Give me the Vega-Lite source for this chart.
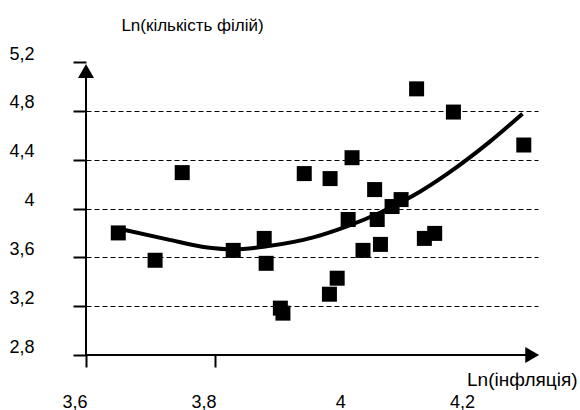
{
  "$schema": "https://vega.github.io/schema/vega-lite/v6.json",
  "autosize": {"type": "none"},
  "padding": {"left": 86, "top": 62, "right": 42, "bottom": 55},
  "width": 452,
  "height": 293,
  "background": "white",
  "config": {
    "view": {"stroke": null},
    "font": "Liberation Sans"
  },
  "datasets": {
    "points": [
      {"infl": 3.650, "branches": 3.80},
      {"infl": 3.707, "branches": 3.576},
      {"infl": 3.749, "branches": 4.294},
      {"infl": 3.828, "branches": 3.657},
      {"infl": 3.876, "branches": 3.755},
      {"infl": 3.879, "branches": 3.551},
      {"infl": 3.901, "branches": 3.184},
      {"infl": 3.905, "branches": 3.143},
      {"infl": 3.938, "branches": 4.286},
      {"infl": 3.977, "branches": 3.298},
      {"infl": 3.978, "branches": 4.245},
      {"infl": 3.989, "branches": 3.429},
      {"infl": 4.006, "branches": 3.91},
      {"infl": 4.012, "branches": 4.416},
      {"infl": 4.029, "branches": 3.657},
      {"infl": 4.047, "branches": 4.155},
      {"infl": 4.051, "branches": 3.91},
      {"infl": 4.056, "branches": 3.706},
      {"infl": 4.074, "branches": 4.016},
      {"infl": 4.088, "branches": 4.073},
      {"infl": 4.112, "branches": 4.98},
      {"infl": 4.124, "branches": 3.755},
      {"infl": 4.140, "branches": 3.796},
      {"infl": 4.169, "branches": 4.79},
      {"infl": 4.278, "branches": 4.52}
    ],
    "curve": [
      {"infl": 3.655, "branches": 3.83},
      {"infl": 3.726, "branches": 3.747},
      {"infl": 3.788, "branches": 3.68},
      {"infl": 3.828, "branches": 3.665},
      {"infl": 3.88, "branches": 3.69},
      {"infl": 3.952, "branches": 3.763},
      {"infl": 4.005, "branches": 3.855},
      {"infl": 4.056, "branches": 3.967},
      {"infl": 4.107, "branches": 4.106},
      {"infl": 4.160, "branches": 4.286},
      {"infl": 4.226, "branches": 4.55},
      {"infl": 4.276, "branches": 4.776}
    ],
    "axisLines": [
      {"axis": "y", "infl": 3.6, "branches": 2.8},
      {"axis": "y", "infl": 3.6, "branches": 5.13},
      {"axis": "x", "infl": 3.6, "branches": 2.8},
      {"axis": "x", "infl": 4.29, "branches": 2.8}
    ],
    "arrows": [
      {"infl": 3.6, "branches": 5.126, "dir": "y"},
      {"infl": 4.291, "branches": 2.8, "dir": "x"}
    ]
  },
  "encoding": {
    "x": {
      "field": "infl",
      "type": "quantitative",
      "scale": {"domain": [3.6, 4.3], "zero": false, "nice": false},
      "axis": {
        "values": [3.6, 3.8, 4.0, 4.2],
        "format": "~g",
        "labelExpr": "replace(datum.label, '.', ',')",
        "grid": false,
        "domain": false,
        "ticks": true,
        "tickColor": {"condition": {"test": "datum.value < 3.9", "value": "#000000"}, "value": "transparent"},
        "tickWidth": 2,
        "tickSize": 12,
        "labelColor": "#000000",
        "labelFont": "Liberation Sans",
        "labelFontSize": 18,
        "labelAlign": "right",
        "labelBaseline": "middle",
        "labelPadding": 35,
        "labelOffset": 1,
        "title": "Ln(інфляція)",
        "titleFont": "Liberation Sans",
        "titleFontSize": 19,
        "titleFontWeight": "normal",
        "titleColor": "#000000",
        "titleAlign": "right",
        "titleBaseline": "middle",
        "titleX": 491,
        "titleY": 24
      }
    },
    "y": {
      "field": "branches",
      "type": "quantitative",
      "scale": {"domain": [2.8, 5.2], "zero": false, "nice": false},
      "axis": {
        "values": [2.8, 3.2, 3.6, 4.0, 4.4, 4.8, 5.2],
        "format": "~g",
        "labelExpr": "replace(datum.label, '.', ',')",
        "grid": true,
        "gridColor": {"condition": {"test": "datum.value > 2.9 && datum.value < 5.1", "value": "#000000"}, "value": "transparent"},
        "gridDash": [5, 3],
        "gridWidth": 1,
        "domain": false,
        "ticks": true,
        "tickColor": "#000000",
        "tickWidth": 2,
        "tickSize": 13,
        "labelColor": "#000000",
        "labelFont": "Liberation Sans",
        "labelFontSize": 18,
        "labelAlign": "right",
        "labelBaseline": "middle",
        "labelPadding": 39,
        "labelOffset": -8,
        "title": "Ln(кількість філій)",
        "titleFont": "Liberation Sans",
        "titleFontSize": 17,
        "titleFontWeight": "normal",
        "titleColor": "#000000",
        "titleAngle": 0,
        "titleAlign": "center",
        "titleBaseline": "middle",
        "titleX": 106,
        "titleY": -37
      }
    }
  },
  "layer": [
    {
      "data": {"name": "axisLines"},
      "mark": {"type": "line", "color": "black", "strokeWidth": 2, "strokeCap": "square"},
      "encoding": {"detail": {"field": "axis"}, "order": {"field": "branches"}}
    },
    {
      "data": {"name": "curve"},
      "mark": {"type": "line", "color": "black", "strokeWidth": 4, "interpolate": "monotone"}
    },
    {
      "data": {"name": "points"},
      "mark": {"type": "point", "shape": "square", "filled": true, "color": "black", "opacity": 1, "size": 225}
    },
    {
      "data": {"name": "arrows"},
      "mark": {"type": "point", "filled": true, "color": "black", "opacity": 1, "size": 256},
      "encoding": {
        "shape": {
          "field": "dir",
          "type": "nominal",
          "scale": {"domain": ["y", "x"], "range": ["triangle-up", "triangle-right"]},
          "legend": null
        }
      }
    }
  ]
}
